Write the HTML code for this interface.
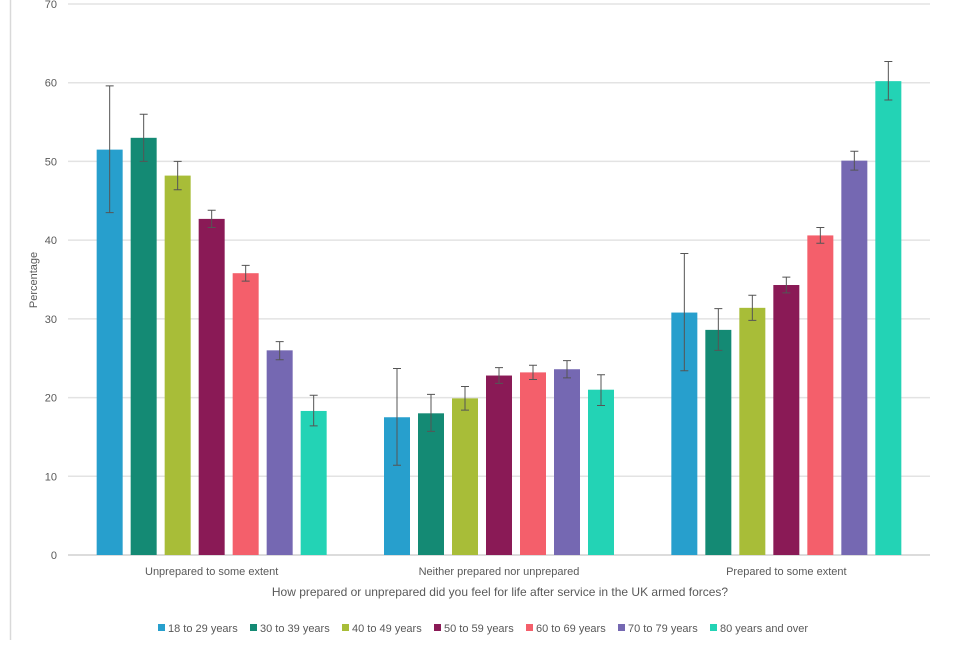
<!DOCTYPE html>
<html><head><meta charset="utf-8"><style>
body{margin:0;background:#fff;width:960px;height:640px;overflow:hidden}
text{font-family:"Liberation Sans",sans-serif;fill:#595959}
</style></head><body>
<svg id="chart" width="960" height="640">
<line x1="10.5" y1="0" x2="10.5" y2="640" stroke="#d9d9d9" stroke-width="1.5"/>
<g id="grid"></g><g id="bars"></g><g id="labels"></g><g id="legend"></g>
<text x="37" y="280" font-size="11" text-anchor="middle" transform="rotate(-90 37 280)">Percentage</text>
<text x="500" y="596" font-size="12" text-anchor="middle">How prepared or unprepared did you feel for life after service in the UK armed forces?</text>
</svg>
<script>
const categories=["Unprepared to some extent","Neither prepared nor unprepared","Prepared to some extent"];
const seriesNames=["18 to 29 years","30 to 39 years","40 to 49 years","50 to 59 years","60 to 69 years","70 to 79 years","80 years and over"];
const colors=["#279fcd","#148a74","#a8bd38","#8a1a56","#f45f6b","#7568b2","#23d3b5"];
const values=[[51.5,17.5,30.8],[53,18,28.6],[48.2,19.9,31.4],[42.7,22.8,34.3],[35.8,23.2,40.6],[26,23.6,50.1],[18.3,21,60.2]];
const lower=[[43.5,11.4,23.4],[50,15.7,26],[46.4,18.4,29.8],[41.6,21.8,33.3],[34.8,22.3,39.6],[24.8,22.5,48.9],[16.4,19,57.8]];
const upper=[[59.6,23.7,38.3],[56,20.4,31.3],[50,21.4,33],[43.8,23.8,35.3],[36.8,24.1,41.6],[27.1,24.7,51.3],[20.3,22.9,62.7]];
const yTicks=[0,10,20,30,40,50,60,70];
const NS="http://www.w3.org/2000/svg";
const X0=68,X1=930,Y0=555,Y70=4;
const y=v=>Y0-(Y0-Y70)*v/70;
const gw=(X1-X0)/categories.length;
const step=34,bw=26;
const xc=(c,s)=>X0+gw*(c+0.5)+(s-(seriesNames.length-1)/2)*step;
function mk(tag,attrs,parent,txt){const e=document.createElementNS(NS,tag);for(const k in attrs)e.setAttribute(k,attrs[k]);if(txt!==undefined)e.textContent=txt;document.getElementById(parent).appendChild(e);return e;}
yTicks.forEach(t=>{
 const l=mk('line',{x1:X0,x2:X1,y1:y(t),y2:y(t),stroke:t===0?'#d0d0d0':'#e3e3e3','stroke-width':1.5},'grid');
 
 
 const tx=mk('text',{x:57,y:y(t)+4,'font-size':11,'text-anchor':'end'},'grid',t);
 
 
});
values.forEach((sv,s)=>sv.forEach((v,c)=>{
 const cx=xc(c,s);
 const r=mk('rect',{x:cx-bw/2,y:y(v),width:bw,height:Y0-y(v),fill:colors[s]},'bars');
 
 
 const g=mk('path',{d:`M${cx},${y(lower[s][c])}V${y(upper[s][c])}M${cx-4},${y(lower[s][c])}H${cx+4}M${cx-4},${y(upper[s][c])}H${cx+4}`,stroke:'#555','stroke-width':1,fill:'none'},'bars');
 
 
}));
categories.forEach((c,i)=>{
 const t=mk('text',{x:X0+gw*(i+0.5),y:575,'font-size':11,'text-anchor':'middle'},'labels',c);
 
 
});
const lx=[158,250,342,434,526,618,710];
seriesNames.forEach((n,i)=>{
 const r=mk('rect',{x:lx[i],y:624,width:7,height:7,fill:colors[i]},'legend');
 
 
 const t=mk('text',{x:lx[i]+10,y:632,'font-size':11},'legend',n);
 
 
});
</script>
</body></html>
